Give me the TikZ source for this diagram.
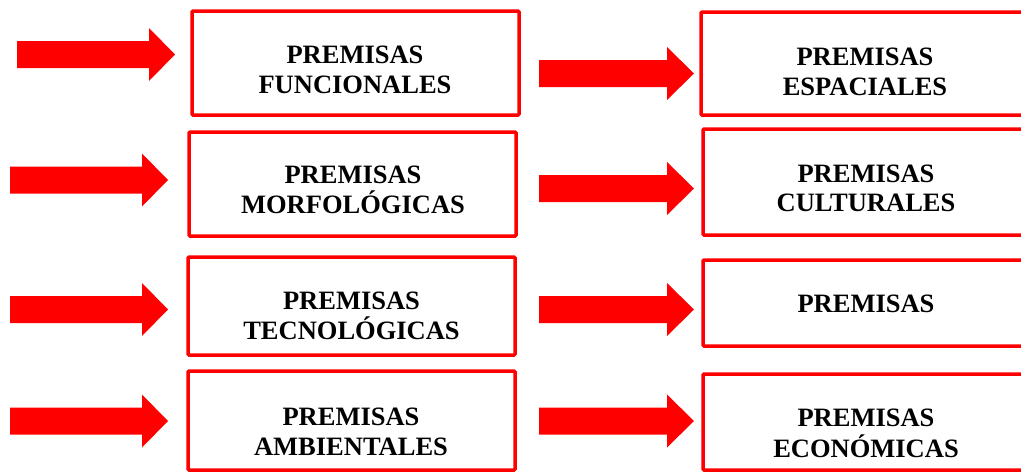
\documentclass[tikz,border=0pt]{standalone}
\usepackage{fontspec}
\setmainfont{Liberation Serif}
\newcommand\fatarr[4]{%
  \fill[red] (#1,#4-13.5) -- (#2,#4-13.5) -- (#2,#4-26.5) -- (#3,#4)
    -- (#2,#4+26.5) -- (#2,#4+13.5) -- (#1,#4+13.5) -- cycle;}
\begin{document}
\begin{tikzpicture}[x=1pt,y=-1pt,
  box/.style={draw=red, line width=3.5pt, rounded corners=1pt, inner sep=0pt},
  lbl/.style={font=\bfseries\fontsize{26.5}{30}\selectfont, anchor=base, inner sep=0pt}]
\useasboundingbox (0,0) rectangle (1021,472);
\clip (0,0) rectangle (1021,472);
% boxes
\node[box, minimum width=327pt, minimum height=104pt] (L1) at (355.5,63) {};
\node[box, minimum width=327pt, minimum height=104pt] (L2) at (352.5,184) {};
\node[box, minimum width=327pt, minimum height=98pt] (L3) at (351.5,306) {};
\node[box, minimum width=327pt, minimum height=99pt] (L4) at (351.5,420.5) {};
\node[box, minimum width=339pt, minimum height=103pt] (R1) at (870.5,63.5) {};
\node[box, minimum width=337pt, minimum height=106pt] (R2) at (871.5,182) {};
\node[box, minimum width=337pt, minimum height=86pt] (R3) at (871.5,303) {};
\node[box, minimum width=337pt, minimum height=96pt] (R4) at (871.5,422) {};
% arrows
\fatarr{17}{149}{175}{54.5}
\fatarr{10}{142}{168}{180}
\fatarr{10}{142}{168}{309.5}
\fatarr{10}{142}{168}{421}
\fatarr{539}{667}{694}{73.5}
\fatarr{539}{667}{694}{188.5}
\fatarr{539}{667}{694}{309.5}
\fatarr{539}{667}{694}{421}
% labels
\node[lbl] (t1a) at (355,63) {PREMISAS};
\node[lbl] (t1b) at (355,93) {FUNCIONALES};
\node[lbl] (t2a) at (865,65) {PREMISAS};
\node[lbl] (t2b) at (865,95) {ESPACIALES};
\node[lbl] (t3a) at (353,183) {PREMISAS};
\node[lbl] (t3b) at (353,213) {MORFOLÓGICAS};
\node[lbl] (t4a) at (866,182) {PREMISAS};
\node[lbl] (t4b) at (866,211) {CULTURALES};
\node[lbl] (t5a) at (351.5,309) {PREMISAS};
\node[lbl] (t5b) at (351.5,339) {TECNOLÓGICAS};
\node[lbl] (t6a) at (866,312) {PREMISAS};
\node[lbl] (t7a) at (351,425) {PREMISAS};
\node[lbl] (t7b) at (351,455) {AMBIENTALES};
\node[lbl] (t8a) at (866,426) {PREMISAS};
\node[lbl] (t8b) at (866,457) {ECONÓMICAS};
\end{tikzpicture}
\end{document}
